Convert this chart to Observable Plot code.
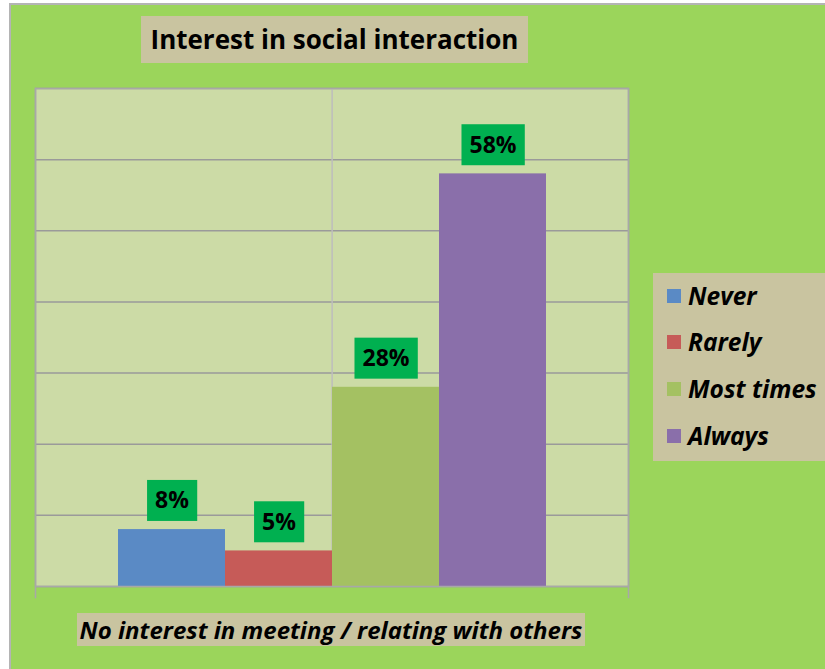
<!DOCTYPE html>
<html>
<head>
<meta charset="utf-8">
<script src="https://cdn.jsdelivr.net/npm/d3@7"></script>
<script src="https://cdn.jsdelivr.net/npm/@observablehq/plot@0.6"></script>
<style>
  body { margin: 0; background: #ffffff; }
  #page { position: relative; width: 825px; height: 669px; overflow: hidden; font-family: "Open Sans", Lato, sans-serif; }
  #bg { position: absolute; left: 9px; top: 3px; width: 830px; height: 690px; background: #9BD55B;
        border-left: 2px solid #B4B4B4; border-top: 2px solid #B4B4B4; box-sizing: border-box; }
  #chart { position: absolute; left: 0; top: 0; }
  .tanbox { position: absolute; background: #C9C4A0; color: #000; text-align: center; white-space: nowrap; }
  #title { left: 141px; top: 16px; width: 387px; height: 47px; line-height: 47px; font-size: 26px; font-weight: bold; letter-spacing: 0px; }
  #xlabel { left: 77px; top: 613px; width: 508px; height: 33px; line-height: 33px; font-size: 24px; font-weight: bold; font-style: italic; letter-spacing: 0px; }
  #legend { left: 653px; top: 273px; width: 172px; height: 188px; text-align: left; }
  .row { position: absolute; left: 14px; height: 22px; line-height: 22px; display: flex; align-items: center;
         font-size: 24.5px; font-weight: bold; font-style: italic; letter-spacing: 0px; }
  .sw { width: 14px; height: 14px; margin-right: 7px; flex: none; }
</style>
</head>
<body>
<div id="page">
  <div id="bg"></div>
  <div id="chart"></div>
  <div id="title" class="tanbox"></div>
  <div id="legend" class="tanbox"></div>
  <div id="xlabel" class="tanbox"></div>
</div>
<script>
const chartTitle = "Interest in social interaction";
const category = "No interest in meeting / relating with others";
const series = ["Never", "Rarely", "Most times", "Always"];
const values = [8, 5, 28, 58];
const labels = ["8%", "5%", "28%", "58%"];
const colors = ["#5A8AC5", "#C65B58", "#A4C162", "#8A6FAA"];
const yGrid = [0, 10, 20, 30, 40, 50, 60, 70];

const data = series.map((s, i) => ({series: s, value: values[i], label: labels[i]}));

const chart = Plot.plot({
  width: 825,
  height: 669,
  marginLeft: 35,
  marginRight: 197,
  marginTop: 88,
  marginBottom: 83,
  style: {background: "transparent", fontFamily: "'Open Sans', sans-serif"},
  x: {type: "band", domain: series, range: [116, 547], padding: 0, axis: null},
  y: {domain: [0, 70], axis: null},
  color: {domain: series, range: colors},
  marks: [
    Plot.frame({fill: "#CCDBA6", stroke: "none"}),
    Plot.ruleY(yGrid, {stroke: "#9A9A9A", strokeWidth: 1.5, strokeOpacity: 1}),
    Plot.ruleX(["Most times"], {dx: -(547 - 116) / series.length / 2, stroke: "#BDBDBD", strokeWidth: 1.5}),
    Plot.barY(data, {x: "series", y: "value", fill: "series"}),
    Plot.frame({stroke: "#A8A8A8", strokeWidth: 1.5}),
    Plot.frame({anchor: "left", insetBottom: -11, stroke: "#A8A8A8", strokeWidth: 1.5}),
    Plot.frame({anchor: "right", insetBottom: -11, stroke: "#A8A8A8", strokeWidth: 1.5}),
    Plot.text(data, {x: "series", y: "value", text: "label", dy: -28.5, fontSize: 23, fontWeight: "bold",
      fill: "#000", lineAnchor: "middle"})
  ]
});
document.getElementById("chart").append(chart);

// green boxes behind the value labels (the only text elements in the SVG)
const ns = "http://www.w3.org/2000/svg";
Array.from(chart.querySelectorAll("text")).forEach(t => {
  const bb = t.getBBox();
  const r = document.createElementNS(ns, "rect");
  const yc = bb.y + bb.height / 2 + 1;
  r.setAttribute("x", bb.x - 8);
  r.setAttribute("width", bb.width + 16);
  r.setAttribute("y", yc - 20.5);
  r.setAttribute("height", 41);
  r.setAttribute("fill", "#00B050");
  const tr = t.getAttribute("transform");
  if (tr) r.setAttribute("transform", tr);
  t.parentNode.insertBefore(r, t);
});

document.getElementById("title").textContent = chartTitle;
document.getElementById("xlabel").textContent = category;
const legend = document.getElementById("legend");
series.forEach((s, i) => {
  const row = document.createElement("div");
  row.className = "row";
  row.style.top = (11.5 + i * 46.7) + "px";
  const sw = document.createElement("div");
  sw.className = "sw";
  sw.style.background = colors[i];
  row.append(sw, document.createTextNode(s));
  legend.append(row);
});
</script>
</body>
</html>
